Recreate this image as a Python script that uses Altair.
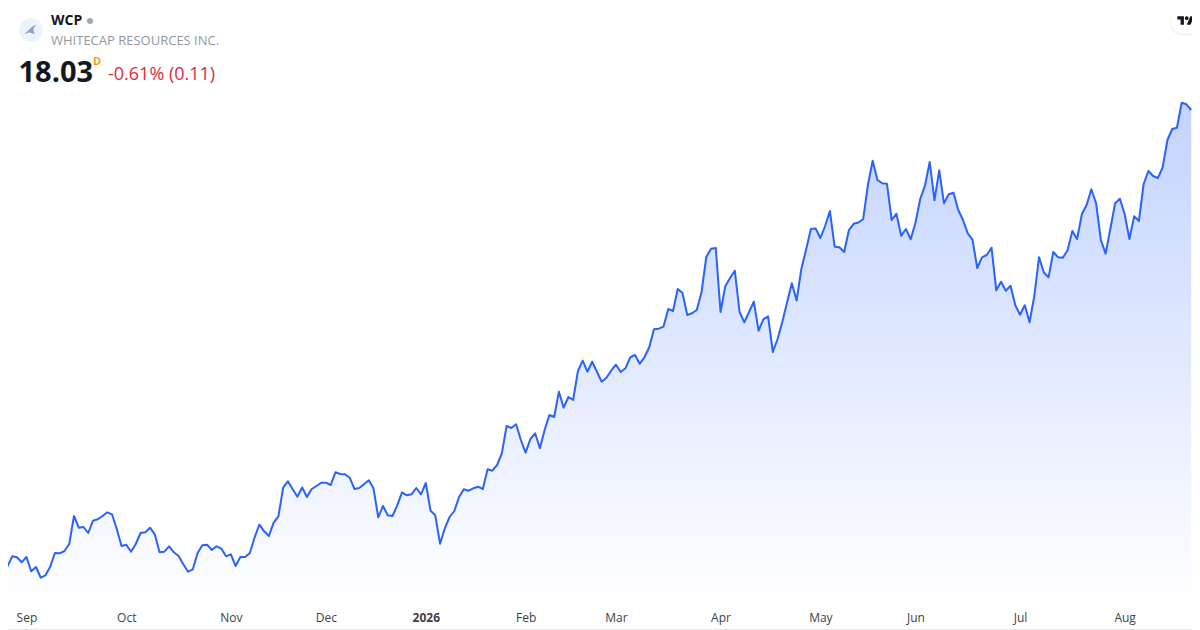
import json
import altair as alt
import pandas as pd

prices = [8.81,8.896,9.104,9.084,8.984,9.09,8.804,8.89,8.676,8.724,8.896,9.17,9.164,9.21,9.35,9.91,9.676,9.69,9.57,9.816,
9.844,9.91,9.984,9.944,9.65,9.31,9.336,9.196,9.35,9.57,9.584,9.676,9.544,9.184,9.196,9.304,9.184,9.11,8.944,8.796,
8.844,9.17,9.324,9.336,9.23,9.304,9.256,9.104,9.144,8.91,9.09,9.09,9.17,9.484,9.736,9.604,9.51,9.776,9.904,10.476,
10.604,10.444,10.296,10.48,10.29,10.45,10.51,10.576,10.576,10.53,10.784,10.75,10.744,10.676,10.45,10.47,10.544,10.624,10.464,9.884,
10.11,9.924,9.91,10.124,10.384,10.324,10.344,10.47,10.344,10.57,10.016,9.924,9.356,9.664,9.89,10.01,10.29,10.444,10.416,10.464,
10.496,10.45,10.844,10.816,10.93,11.164,11.71,11.67,11.744,11.43,11.176,11.45,11.564,11.264,11.63,11.93,11.89,12.396,12.076,12.29,
12.23,12.81,13.016,12.796,12.996,12.796,12.596,12.676,12.816,12.936,12.79,12.864,13.084,13.13,12.956,13.084,13.284,13.644,13.656,13.696,
14.05,14.01,14.45,14.37,13.93,13.964,14.03,14.384,15.09,15.256,15.27,13.99,14.504,14.67,14.816,13.99,13.784,13.99,14.196,13.616,
13.844,13.904,13.19,13.45,13.796,14.184,14.564,14.22,14.85,15.238,15.65,15.66,15.47,15.71,16.01,15.296,15.286,15.19,15.626,15.754,
15.78,15.846,16.53,17.016,16.63,16.564,16.556,15.83,15.956,15.516,15.65,15.444,15.776,16.25,16.516,16.99,16.224,16.824,16.164,16.344,
16.376,16.03,15.83,15.564,15.436,14.87,15.084,15.13,15.276,14.424,14.596,14.414,14.514,14.126,13.936,14.124,13.784,14.31,15.086,14.78,
14.684,15.19,15.084,15.076,15.224,15.61,15.45,15.944,16.13,16.444,16.164,15.43,15.156,15.656,16.164,16.256,15.95,15.45,15.904,15.81,
16.55,16.81,16.71,16.67,16.884,17.43,17.65,17.676,18.176,18.144,18.03]
tick_days = [5, 26, 48, 68, 89, 110, 129, 151, 172, 192, 214, 236]
tick_labels = ["Sep", "Oct", "Nov", "Dec", "2026", "Feb", "Mar", "Apr", "May", "Jun", "Jul", "Aug"]
bold_tick = 89
symbol = ["WCP"]
company = ["WHITECAP RESOURCES INC."]
last_price = ["18.03"]
delay_flag = ["D"]
change_text = ["-0.61% (0.11)"]

FONT = "Open Sans"
BLUE = "#2962ff"
W, H = 1184, 622
days = list(range(len(prices)))
df = pd.DataFrame({"day": days, "price": prices})

x_scale = alt.Scale(domain=[1.121, 250.17], nice=False, zero=False)
y_scale = alt.Scale(domain=[7.63, 20.07], nice=False, zero=False)
label_expr = "%s[indexof(%s, datum.value)]" % (json.dumps(tick_labels), json.dumps(tick_days))

x_axis = alt.Axis(
    values=tick_days, labelExpr=label_expr, title=None, grid=False, ticks=False, domain=False,
    labelFont=FONT, labelFontSize=12, labelColor="#3c3f47", labelPadding=0, offset=-13,
    labelFlush=False, labelOverlap=False, labelBound=False, labelAngle=0, labelBaseline="middle",
    labelFontWeight={"condition": {"test": "datum.value === %d" % bold_tick, "value": 700}, "value": 400},
)

gradient = alt.LinearGradient(
    gradient="linear", x1=1, x2=1, y1=0, y2=1,
    stops=[
        alt.GradientStop(color="rgba(41,98,255,0.28)", offset=0),
        alt.GradientStop(color="rgba(41,98,255,0)", offset=1),
    ],
)

base = alt.Chart(df).encode(
    x=alt.X("day:Q", scale=x_scale, axis=x_axis),
    y=alt.Y("price:Q", scale=y_scale, axis=None),
)
area = base.mark_area(color=gradient, clip=False).encode(y2=alt.datum(8.1))
line = base.mark_line(color=BLUE, strokeWidth=2, strokeJoin="round", clip=False)


def label(values, x, y, size, color, weight=400, **kw):
    return alt.Chart(pd.DataFrame({"t": values})).mark_text(
        font=FONT, fontSize=size, color=color, fontWeight=weight, align="left", baseline="middle", **kw
    ).encode(text="t:N", x=alt.value(x), y=alt.value(y))


def box(x, x2, y, y2, **kw):
    return alt.Chart(pd.DataFrame({"a": [0]})).mark_rect(**kw).encode(
        x=alt.value(x), x2=alt.value(x2), y=alt.value(y), y2=alt.value(y2)
    )


def glyph(x, y, shape, size, **kw):
    return alt.Chart(pd.DataFrame({"a": [0]})).mark_point(shape=shape, size=size, filled=True, **kw).encode(
        x=alt.value(x), y=alt.value(y)
    )


TV_SHAPE = ("M-0.222 0.5H-0.611V-0.111H-1V-0.5H-0.222Z"
            "M0.556 0.5H0.111L0.528 -0.5H0.972Z"
            "M-0.111 -0.278a0.222 0.222 0 1 0 0.444 0a0.222 0.222 0 1 0 -0.444 0Z")
FIN_SHAPE = "M-1 0.6C-0.5 0.3 -0.1 -0.5 0.8 -0.8C0.3 -0.3 0.2 0.1 0.6 0.6L-0.2 0.35Z"

card = box(-7.5, W + 20, -7.5, H - 0.5, fill="#ffffff", fillOpacity=0, stroke="#e6e6e6", strokeWidth=1, cornerRadius=6)
pill_shadow = box(1162, 1200, 2, 27.5, fill="#000000", fillOpacity=0.04, cornerRadius=12)
pill = box(1163, 1200, 2, 25, fill="#ffffff", cornerRadius=12)

chart = alt.layer(
    area, line, card,
    glyph(23, 22, "circle", 576, color="#eef2f9", opacity=1),
    glyph(23, 22, FIN_SHAPE, 196, color="#8ca2cc", opacity=1),
    label(symbol, 43, 13, 14, "#131722", 700),
    glyph(82, 13, "circle", 36, color="#a3a6af", opacity=1),
    label(company, 43, 32.5, 13, "#95979e", 400),
    label(last_price, 10.5, 64.5, 29, "#131722", 700),
    label(delay_flag, 85, 53.5, 11, "#ff9800", 700),
    label(change_text, 100, 67, 18, "#e0293f", 400),
    pill_shadow, pill,
    glyph(1177.8, 12.5, TV_SHAPE, 289, color="#131722", opacity=1),
).properties(
    width=W, height=H, padding=0, background="#ffffff",
    autosize=alt.AutoSizeParams(type="none"),
).configure_view(stroke=None)

chart.save("out.html", embed_options={"renderer": "svg", "actions": False})
